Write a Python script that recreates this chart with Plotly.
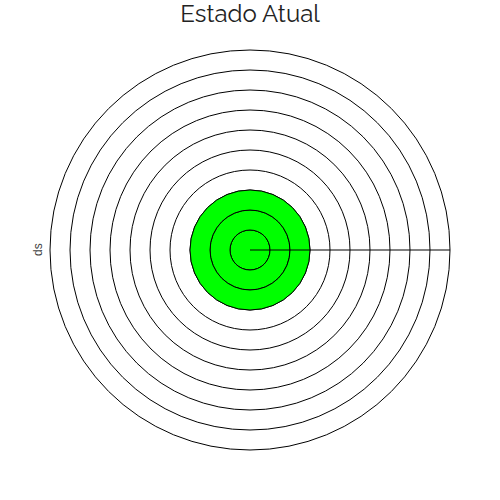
import plotly.graph_objects as go

# data
level_segments = [1, 1, 1]   # current level = 3, drawn as stacked unit rings
level_theta = [0]
level_width = [360]
max_level = 10
title_text = "Estado Atual"
side_label = "ds"

fig = go.Figure()
for seg in level_segments:
    fig.add_trace(go.Barpolar(
        r=[seg], theta=level_theta, width=level_width,
        marker=dict(color="#00ff00", line=dict(width=1, color="black")),
        showlegend=False, hoverinfo="skip",
    ))

fig.update_layout(
    width=500, height=500,
    margin=dict(l=50, r=50, t=50, b=50, autoexpand=False),
    paper_bgcolor="white", plot_bgcolor="white",
    title=dict(text=title_text, x=0.5, xanchor="center", y=0.99, yanchor="top",
               font=dict(family="Raleway, Lato, sans-serif", size=24, color="#222")),
    polar=dict(
        domain=dict(x=[0, 1], y=[0, 1]),
        bgcolor="white",
        barmode="stack",
        radialaxis=dict(range=[0, max_level], dtick=1, tick0=0, showticklabels=False,
                        ticks="", gridcolor="black", gridwidth=1, showline=True,
                        linecolor="black", linewidth=1, angle=0, layer="above traces"),
        angularaxis=dict(showgrid=False, showticklabels=False, ticks="",
                         showline=True, linecolor="black", linewidth=1,
                         layer="above traces"),
    ),
    annotations=[dict(text=side_label, xref="paper", yref="paper", x=-0.03, y=0.5,
                      xanchor="center", yanchor="middle", textangle=-90, showarrow=False,
                      font=dict(family="Arial, Liberation Sans", size=12, color="#444"))],
)

fig.write_html("out.html", config={"displayModeBar": False},
               post_script="document.body.style.margin='0px';")
